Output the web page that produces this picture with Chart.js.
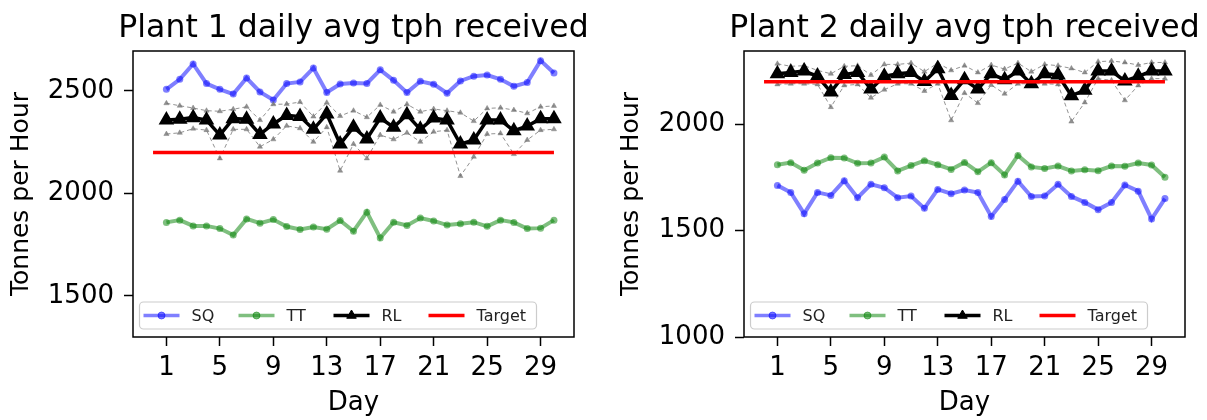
<!DOCTYPE html>
<html>
<head>
<meta charset="utf-8">
<script src="https://cdn.jsdelivr.net/npm/chart.js@4.4.1/dist/chart.umd.min.js"></script>
<style>
  html, body { margin: 0; padding: 0; background: #fff; }
  .wrap { position: absolute; top: 0; }
</style>
</head>
<body>
<div class="wrap" style="left:0px"><canvas id="plant1" width="600" height="420"></canvas></div>
<div class="wrap" style="left:600px"><canvas id="plant2" width="607" height="420"></canvas></div>
<script>
'use strict';

// days of the month and tick labels
const days = Array.from({length: 30}, (_, i) => i + 1);
const dayTicks = [1, 5, 9, 13, 17, 21, 25, 29];
const targetSpan = [0, 30];
const targetValue = 2200;

// plant 1
const plant1SQ = [2508, 2557, 2632, 2536, 2508, 2485, 2563, 2495, 2456, 2536, 2544, 2612, 2493, 2534, 2539,
  2537, 2603, 2552, 2492, 2547, 2533, 2489, 2549, 2572, 2578, 2557, 2523, 2541, 2648, 2588];
const plant1TT = [1859, 1870, 1842, 1842, 1829, 1797, 1876, 1855, 1873, 1839, 1824, 1836, 1826, 1868, 1816,
  1909, 1783, 1860, 1844, 1880, 1866, 1846, 1852, 1860, 1840, 1870, 1859, 1829, 1831, 1870];
const plant1RL = [2358, 2362, 2370, 2358, 2285, 2365, 2362, 2288, 2339, 2381, 2375, 2313, 2388, 2241, 2323,
  2266, 2368, 2323, 2384, 2313, 2368, 2358, 2241, 2261, 2358, 2358, 2306, 2329, 2365, 2365];
const plant1RLHigh = [2440, 2428, 2417, 2404, 2401, 2411, 2423, 2358, 2435, 2436, 2446, 2375, 2443, 2378, 2404,
  2372, 2432, 2399, 2435, 2399, 2412, 2404, 2394, 2353, 2415, 2418, 2407, 2391, 2423, 2427];
const plant1RLLow = [2290, 2296, 2316, 2309, 2171, 2313, 2313, 2228, 2264, 2330, 2318, 2252, 2323, 2111, 2241,
  2171, 2285, 2264, 2296, 2252, 2301, 2309, 2085, 2179, 2290, 2293, 2192, 2261, 2309, 2313];
const plant1YTicks = [1500, 2000, 2500];

// plant 2
const plant2SQ = [1713, 1680, 1580, 1680, 1666, 1735, 1655, 1718, 1702, 1655, 1663, 1605, 1694, 1674, 1691,
  1679, 1567, 1647, 1733, 1661, 1663, 1718, 1661, 1633, 1599, 1633, 1715, 1686, 1555, 1651];
const plant2TT = [1810, 1820, 1784, 1818, 1843, 1842, 1817, 1818, 1846, 1781, 1806, 1829, 1810, 1788, 1821,
  1777, 1820, 1762, 1854, 1800, 1793, 1804, 1781, 1787, 1782, 1804, 1803, 1818, 1809, 1751];
const plant2RL = [2238, 2244, 2251, 2226, 2152, 2234, 2244, 2166, 2226, 2238, 2244, 2202, 2262, 2136, 2210,
  2166, 2238, 2210, 2251, 2191, 2238, 2232, 2135, 2160, 2251, 2251, 2204, 2226, 2251, 2251];
const plant2RLHigh = [2285, 2273, 2276, 2254, 2238, 2273, 2276, 2232, 2282, 2282, 2288, 2248, 2288, 2254, 2276,
  2244, 2279, 2260, 2288, 2248, 2282, 2276, 2263, 2244, 2295, 2298, 2291, 2279, 2291, 2291];
const plant2RLLow = [2188, 2191, 2191, 2188, 2081, 2183, 2188, 2125, 2163, 2191, 2191, 2157, 2191, 2019, 2147,
  2100, 2185, 2144, 2191, 2191, 2191, 2188, 2013, 2103, 2215, 2207, 2113, 2183, 2215, 2215];
const plant2YTicks = [1000, 1500, 2000];

const legendLabels = ['SQ', 'TT', 'RL', 'Target'];

Chart.defaults.font.family = 'DejaVu Sans';
Chart.defaults.color = '#000';

const FONT = 'DejaVu Sans';
const SQ_COLOR = 'rgba(0, 0, 255, 0.5)';
const TT_COLOR = 'rgba(0, 128, 0, 0.5)';
const BAND_COLOR = 'rgba(110, 110, 110, 0.75)';

const toPoints = (values) => values.map((v, i) => ({x: days[i], y: v}));

// title, frame and legend drawn on the canvas like matplotlib does
const framePlugin = {
  id: 'frame',
  afterDatasetsDraw(chart, args, opts) {
    const {ctx, chartArea: a} = chart;
    ctx.save();
    ctx.strokeStyle = '#000';
    ctx.lineWidth = 1.5;
    ctx.strokeRect(a.left, a.top, a.right - a.left, a.bottom - a.top);

    // title
    ctx.fillStyle = '#000';
    ctx.font = `31.5px ${FONT}`;
    ctx.textAlign = 'center';
    ctx.textBaseline = 'alphabetic';
    ctx.fillText(opts.title, (a.left + a.right) / 2, 37);

    // legend box
    const bx = a.left + 6.5;
    const by = a.bottom - 35;
    const bw = 397;
    const bh = 27;
    ctx.beginPath();
    ctx.roundRect(bx, by, bw, bh, 4);
    ctx.fillStyle = 'rgba(255, 255, 255, 0.8)';
    ctx.fill();
    ctx.strokeStyle = '#cccccc';
    ctx.lineWidth = 1.2;
    ctx.stroke();

    const cy = by + bh / 2;
    const styles = [
      {color: SQ_COLOR, marker: 'circle'},
      {color: TT_COLOR, marker: 'circle'},
      {color: '#000', marker: 'triangle'},
      {color: '#ff0000', marker: null},
    ];
    ctx.font = `16px ${FONT}`;
    ctx.textAlign = 'left';
    ctx.textBaseline = 'middle';
    legendLabels.forEach((label, i) => {
      const x0 = bx + 4 + i * 95;
      const x1 = x0 + 36;
      const s = styles[i];
      ctx.strokeStyle = s.color;
      ctx.lineWidth = 3.5;
      ctx.beginPath();
      ctx.moveTo(x0, cy);
      ctx.lineTo(x1, cy);
      ctx.stroke();
      if (s.marker) {
        ctx.fillStyle = s.color;
        ctx.strokeStyle = s.color;
        ctx.lineWidth = 1;
        Chart.helpers.drawPoint(ctx, {pointStyle: s.marker, radius: s.marker === 'triangle' ? 5.5 : 3.5, rotation: 0, borderWidth: 1}, (x0 + x1) / 2, cy);
      }
      ctx.fillStyle = '#222';
      ctx.fillText(label, x1 + 12, cy + 1);
    });
    ctx.restore();
  },
};

const makeChart = (id, opts) => {
  const ctx = document.getElementById(id);
  return new Chart(ctx, {
    type: 'line',
    data: {
      datasets: [
        {
          label: 'Target',
          data: targetSpan.map((d) => ({x: d, y: targetValue})),
          borderColor: '#ff0000',
          borderWidth: 3.5,
          pointRadius: 0,
        },
        {
          label: 'RL',
          data: toPoints(opts.rl),
          borderColor: '#000',
          borderWidth: 3.5,
          pointStyle: 'triangle',
          pointRadius: 5.5,
          pointBackgroundColor: '#000',
          pointBorderColor: '#000',
        },
        {
          label: 'RL high',
          data: toPoints(opts.rlHigh),
          borderColor: BAND_COLOR,
          borderWidth: 1,
          borderDash: [4, 3],
          pointStyle: 'triangle',
          pointRadius: 3,
          pointBackgroundColor: BAND_COLOR,
          pointBorderColor: BAND_COLOR,
          pointBorderWidth: 0.5,
        },
        {
          label: 'RL low',
          data: toPoints(opts.rlLow),
          borderColor: BAND_COLOR,
          borderWidth: 1,
          borderDash: [4, 3],
          pointStyle: 'triangle',
          pointRadius: 3,
          pointBackgroundColor: BAND_COLOR,
          pointBorderColor: BAND_COLOR,
          pointBorderWidth: 0.5,
        },
        {
          label: 'TT',
          data: toPoints(opts.tt),
          borderColor: TT_COLOR,
          borderWidth: 4,
          pointRadius: 3.5,
          pointBackgroundColor: TT_COLOR,
          pointBorderWidth: 0,
        },
        {
          label: 'SQ',
          data: toPoints(opts.sq),
          borderColor: SQ_COLOR,
          borderWidth: 4,
          pointRadius: 3.5,
          pointBackgroundColor: SQ_COLOR,
          pointBorderWidth: 0,
        },
      ],
    },
    options: {
      responsive: false,
      animation: false,
      layout: {
        padding: {top: 51, right: opts.padRight, bottom: 0, left: 0},
      },
      scales: {
        x: {
          type: 'linear',
          min: -1.5,
          max: 31.5,
          afterBuildTicks: (scale) => {
            scale.ticks = dayTicks.map((v) => ({value: v}));
          },
          afterFit: (scale) => {
            scale.height = 83;
          },
          grid: {drawOnChartArea: false, tickLength: 9, tickColor: '#000', tickWidth: 1.5},
          border: {display: false},
          ticks: {font: {size: 26}, padding: 7, maxRotation: 0, autoSkip: false, callback: (v) => String(v)},
          title: {display: true, text: 'Day', font: {size: 26}, padding: {top: 0, bottom: 1}},
        },
        y: {
          type: 'linear',
          min: opts.yMin,
          max: opts.yMax,
          afterBuildTicks: (scale) => {
            scale.ticks = opts.yTicks.map((v) => ({value: v}));
          },
          afterFit: (scale) => {
            scale.width = opts.axisWidth;
          },
          grid: {drawOnChartArea: false, tickLength: 9, tickColor: '#000', tickWidth: 1.5},
          border: {display: false},
          ticks: {font: {size: 26}, padding: 10, callback: (v) => String(v)},
          title: {display: true, text: 'Tonnes per Hour', font: {size: 25}, padding: {top: opts.titlePad, bottom: 0}},
        },
      },
      plugins: {
        legend: {display: false},
        tooltip: {enabled: false},
        frame: {title: opts.title},
      },
    },
    plugins: [framePlugin],
  });
};

makeChart('plant1', {
  title: 'Plant 1 daily avg tph received',
  sq: plant1SQ, tt: plant1TT, rl: plant1RL, rlHigh: plant1RLHigh, rlLow: plant1RLLow,
  yMin: 1300, yMax: 2695, yTicks: plant1YTicks,
  axisWidth: 133, padRight: 26, titlePad: 6,
});

makeChart('plant2', {
  title: 'Plant 2 daily avg tph received',
  sq: plant2SQ, tt: plant2TT, rl: plant2RL, rlHigh: plant2RLHigh, rlLow: plant2RLLow,
  yMin: 1000, yMax: 2345, yTicks: plant2YTicks,
  axisWidth: 144, padRight: 22, titlePad: 16,
});
</script>
</body>
</html>
